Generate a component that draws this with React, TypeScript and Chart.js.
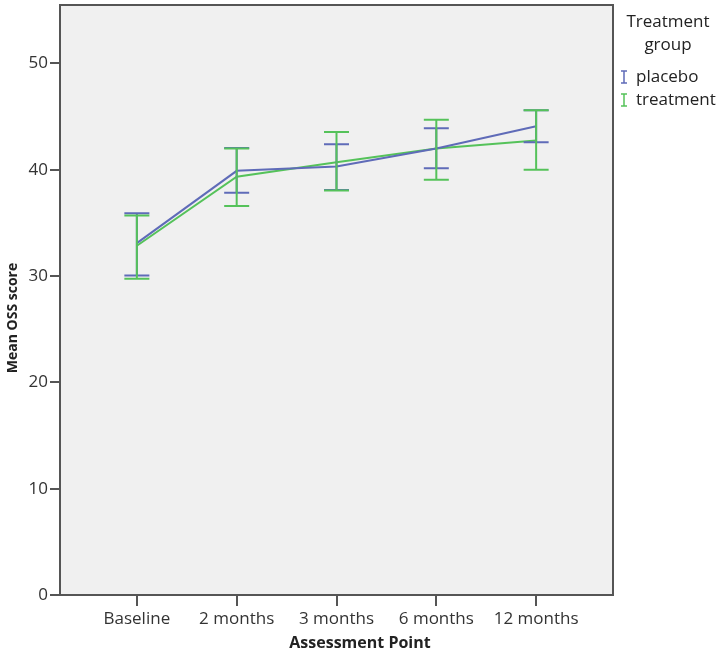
import React, { useEffect, useRef } from "react";
import { Chart, registerables } from "chart.js";

Chart.register(...registerables);

const categories = ["Baseline", "2 months", "3 months", "6 months", "12 months"];
const placeboMean = [33.1, 39.9, 40.3, 42.0, 44.1];
const placeboLower = [30.05, 37.85, 38.1, 40.15, 42.6];
const placeboUpper = [35.9, 42.05, 42.4, 43.9, 45.6];
const treatmentMean = [32.85, 39.35, 40.7, 42.0, 42.75];
const treatmentLower = [29.75, 36.6, 38.05, 39.05, 40.0];
const treatmentUpper = [35.7, 42.0, 43.55, 44.7, 45.6];
const yTicks = [0, 10, 20, 30, 40, 50];

const PLACEBO = "#5f6bb8";
const TREAT = "#55c25a";
const AXIS = "#555555";
const FONT = "'Open Sans', sans-serif";

const decor = {
  id: "decor",
  beforeDraw(chart: any) {
    const { ctx, chartArea: a } = chart;
    ctx.save();
    ctx.fillStyle = "#f0f0f0";
    ctx.fillRect(a.left, a.top, a.right - a.left, a.bottom - a.top);
    ctx.restore();
  },
  afterDatasetsDraw(chart: any) {
    const { ctx, scales } = chart;
    const xs = scales.x, ys = scales.y;
    const series = [
      { lo: placeboLower, hi: placeboUpper, c: PLACEBO },
      { lo: treatmentLower, hi: treatmentUpper, c: TREAT },
    ];
    ctx.save();
    ctx.lineWidth = 2;
    series.forEach((s) => {
      ctx.strokeStyle = s.c;
      categories.forEach((_, i) => {
        const x = xs.getPixelForValue(i);
        const y1 = ys.getPixelForValue(s.lo[i]);
        const y2 = ys.getPixelForValue(s.hi[i]);
        ctx.beginPath();
        ctx.moveTo(x, y1);
        ctx.lineTo(x, y2);
        ctx.moveTo(x - 12.5, y1);
        ctx.lineTo(x + 12.5, y1);
        ctx.moveTo(x - 12.5, y2);
        ctx.lineTo(x + 12.5, y2);
        ctx.stroke();
      });
    });
    ctx.restore();
  },
  afterDraw(chart: any) {
    const { ctx, chartArea: a } = chart;
    ctx.save();
    ctx.strokeStyle = AXIS;
    ctx.lineWidth = 2;
    ctx.strokeRect(a.left, a.top, a.right - a.left, a.bottom - a.top);

    ctx.fillStyle = "#222";
    ctx.font = `bold 16px ${FONT}`;
    ctx.textAlign = "center";
    ctx.textBaseline = "middle";
    ctx.fillText("Assessment Point", 360, 643);
    ctx.save();
    ctx.translate(13, 318);
    ctx.rotate(-Math.PI / 2);
    ctx.font = `bold 14px ${FONT}`;
    ctx.fillText("Mean OSS score", 0, 0);
    ctx.restore();

    ctx.font = `17px ${FONT}`;
    ctx.fillStyle = "#222";
    ctx.fillText("Treatment", 668, 22);
    ctx.fillText("group", 668, 45);
    ctx.textAlign = "left";
    const items = [
      { t: "placebo", c: PLACEBO, y: 77 },
      { t: "treatment", c: TREAT, y: 100 },
    ];
    items.forEach((it) => {
      ctx.strokeStyle = it.c;
      ctx.lineWidth = 1.5;
      ctx.beginPath();
      ctx.moveTo(624, it.y - 6);
      ctx.lineTo(624, it.y + 6);
      ctx.moveTo(621, it.y - 6);
      ctx.lineTo(627, it.y - 6);
      ctx.moveTo(621, it.y + 6);
      ctx.lineTo(627, it.y + 6);
      ctx.stroke();
      ctx.fillStyle = "#222";
      ctx.fillText(it.t, 636, it.y);
    });
    ctx.restore();
  },
};

export default function App() {
  const ref = useRef<HTMLCanvasElement>(null);
  useEffect(() => {
    const chart = new Chart(ref.current!, {
      type: "line",
      data: {
        datasets: [
          {
            label: "placebo",
            data: placeboMean.map((v, i) => ({ x: i, y: v })),
            borderColor: PLACEBO,
            borderWidth: 2,
            pointRadius: 0,
            tension: 0,
          },
          {
            label: "treatment",
            data: treatmentMean.map((v, i) => ({ x: i, y: v })),
            borderColor: TREAT,
            borderWidth: 2,
            pointRadius: 0,
            tension: 0,
          },
        ],
      },
      options: {
        animation: false,
        responsive: false,
        devicePixelRatio: 1,
        layout: { padding: { left: 0, top: 5, right: 110, bottom: 0 } },
        plugins: { legend: { display: false }, tooltip: { enabled: false } },
        scales: {
          x: {
            type: "linear",
            min: -0.77,
            max: 4.77,
            afterBuildTicks: (s: any) => {
              s.ticks = categories.map((_, i) => ({ value: i }));
            },
            afterFit: (s: any) => {
              s.height = 58;
              s.paddingLeft = 0;
              s.paddingRight = 0;
            },
            ticks: {
              callback: (v: any) => categories[v as number] ?? "",
              font: { family: FONT, size: 17 },
              color: "#333",
              padding: 3,
              maxRotation: 0,
              autoSkip: false,
            },
            grid: {
              drawOnChartArea: false,
              drawTicks: true,
              tickLength: 11,
              color: AXIS,
              lineWidth: 2,
            },
            border: { display: false },
          },
          y: {
            type: "linear",
            min: 0,
            max: 55.5,
            afterBuildTicks: (s: any) => {
              s.ticks = yTicks.map((v) => ({ value: v }));
            },
            afterFit: (s: any) => {
              s.width = 60;
              s.paddingTop = 0;
              s.paddingBottom = 0;
            },
            ticks: {
              font: { family: FONT, size: 17 },
              color: "#333",
              padding: 2,
            },
            grid: {
              drawOnChartArea: false,
              drawTicks: true,
              tickLength: 10,
              color: AXIS,
              lineWidth: 2,
            },
            border: { display: false },
          },
        },
      },
      plugins: [decor],
    });
    return () => chart.destroy();
  }, []);
  return (
    <div style={{ position: "fixed", left: 0, top: 0, width: 723, height: 653, background: "#fff" }}>
      <canvas ref={ref} width={723} height={653} />
    </div>
  );
}
